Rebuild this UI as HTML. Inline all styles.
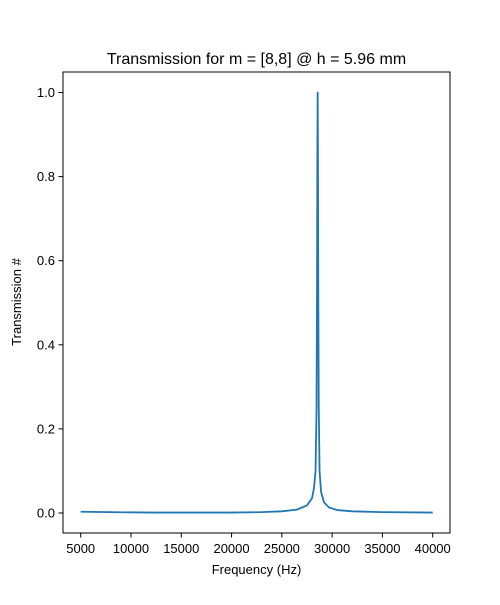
<!DOCTYPE html>
<html><head><meta charset="utf-8"><style>
body{margin:0;background:#fff;}
svg text{font-family:"Liberation Sans","DejaVu Sans",sans-serif;fill:#000;}
</style></head><body>
<svg id="chart" width="500" height="600" viewBox="0 0 500 600" xmlns="http://www.w3.org/2000/svg">
<rect x="0" y="0" width="500" height="600" fill="#fff"/>
<text x="256.5" y="64" font-size="16" text-anchor="middle">Transmission for m = [8,8] @ h = 5.96 mm</text>
<g id="plot"></g>
<rect x="63" y="72" width="387" height="461" fill="none" stroke="#000" stroke-width="1"/>
<text x="256.5" y="574" font-size="13" text-anchor="middle">Frequency (Hz)</text>
<text x="21" y="302" font-size="13" text-anchor="middle" transform="rotate(-90 21 302)">Transmission #</text>
</svg>
<script>
const freqs = [5000,8000,12000,16000,20000,23000,25000,26500,27500,28000,28200,28350,28450,28500,28530,28560,28590,28620,28670,28750,28900,29200,29700,30500,32000,35000,40000];
const trans = [0.003,0.002,0.001,0.001,0.001,0.002,0.004,0.008,0.018,0.035,0.06,0.1,0.25,0.55,0.85,1.0,0.85,0.55,0.25,0.1,0.05,0.025,0.013,0.007,0.004,0.002,0.001];
const xTicks = [5000,10000,15000,20000,25000,30000,35000,40000];
const yTicks = [0.0,0.2,0.4,0.6,0.8,1.0];
const xS = v => 80.7 + (v-5000)*(352/35000);
const yS = v => 513 - v*420.5;
const NS="http://www.w3.org/2000/svg";
const g=document.getElementById('plot');
xTicks.forEach(t=>{
  const l=document.createElementNS(NS,'line');
  
  
  l.setAttribute('x1',xS(t));l.setAttribute('x2',xS(t));l.setAttribute('y1',533);l.setAttribute('y2',537.5);l.setAttribute('stroke','#000');
  g.appendChild(l);
  const tx=document.createElementNS(NS,'text');
  
  
  tx.setAttribute('x',xS(t));tx.setAttribute('y',553);tx.setAttribute('font-size','13');tx.setAttribute('text-anchor','middle');
  tx.textContent=t;g.appendChild(tx);
});
yTicks.forEach(t=>{
  const l=document.createElementNS(NS,'line');
  
  
  l.setAttribute('x1',58.5);l.setAttribute('x2',63);l.setAttribute('y1',yS(t));l.setAttribute('y2',yS(t));l.setAttribute('stroke','#000');
  g.appendChild(l);
  const tx=document.createElementNS(NS,'text');
  
  
  tx.setAttribute('x',55);tx.setAttribute('y',yS(t)+4.5);tx.setAttribute('font-size','13');tx.setAttribute('text-anchor','end');
  tx.textContent=t.toFixed(1);g.appendChild(tx);
});
const p=document.createElementNS(NS,'polyline');


p.setAttribute('points',freqs.map((f,i)=>xS(f)+','+yS(trans[i])).join(' '));
p.setAttribute('fill','none');p.setAttribute('stroke','#1f77b4');p.setAttribute('stroke-width','1.8');p.setAttribute('stroke-linejoin','round');
g.appendChild(p);
</script>
</body></html>
